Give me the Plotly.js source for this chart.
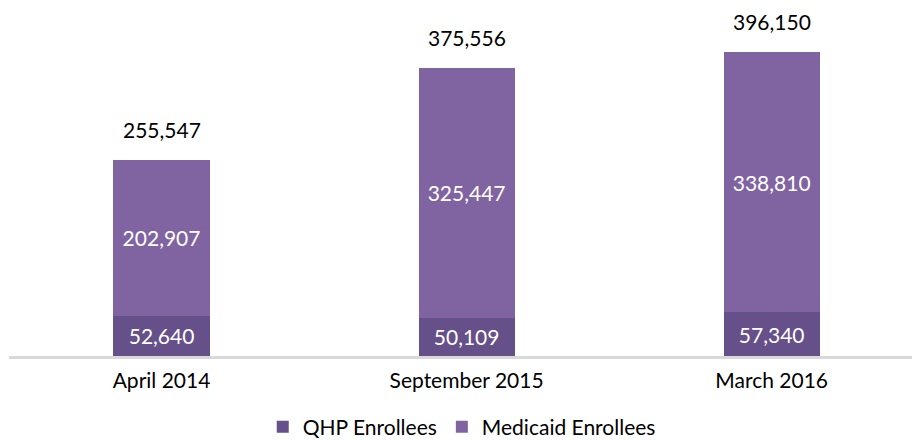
<!DOCTYPE html>
<html><head><meta charset="utf-8">
<script src="https://cdn.plot.ly/plotly-3.0.1.min.js"></script>
<style>body{margin:0;padding:0;background:#fff}</style>
</head><body>
<div id="chart" style="width:912px;height:440px"></div>
<script>
const categories = ["April 2014", "September 2015", "March 2016"];
const qhp = [52640, 50109, 57340];
const medicaid = [202907, 325447, 338810];
const totals = [255547, 375556, 396150];

const fmt = v => v.toLocaleString('en-US');
const FONT = "Lato, 'Open Sans', sans-serif";
const FS = 21;

const traces = [
  {
    type: 'bar', name: 'QHP Enrollees', x: categories, y: qhp,
    marker: {color: '#66508a'},
    text: qhp.map(fmt), textposition: 'inside', insidetextanchor: 'middle',
    constraintext: 'none',
    textfont: {color: '#ffffff', size: FS, family: FONT},
    hoverinfo: 'skip'
  },
  {
    type: 'bar', name: 'Medicaid Enrollees', x: categories, y: medicaid,
    marker: {color: '#8064a2'},
    text: medicaid.map(fmt), textposition: 'inside', insidetextanchor: 'middle',
    constraintext: 'none',
    textfont: {color: '#ffffff', size: FS, family: FONT},
    hoverinfo: 'skip'
  }
];

const annotations = categories.map((c, i) => ({
  x: c, y: totals[i], xref: 'x', yref: 'y',
  text: fmt(totals[i]), showarrow: false,
  yanchor: 'bottom', xanchor: 'center', yshift: 16,
  font: {size: FS, color: '#000', family: FONT}
}));

const layout = {
  width: 912, height: 440,
  margin: {l: 9, r: 0, t: 34, b: 84, autoexpand: false},
  barmode: 'stack',
  bargap: 0.685,
  paper_bgcolor: '#fff', plot_bgcolor: '#fff',
  font: {family: FONT, color: '#000'},
  annotations: annotations,
  xaxis: {
    type: 'category', range: [-0.5, 2.46],
    showline: true, linecolor: '#d9d9d9', linewidth: 2.5,
    ticks: '', showgrid: false, zeroline: false,
    ticklabelstandoff: 4,
    tickfont: {size: FS, color: '#000', family: FONT}
  },
  yaxis: {
    range: [0, 419700], visible: false, showgrid: false, zeroline: false
  },
  legend: {
    orientation: 'h', x: 0.281, xanchor: 'left', y: -0.157, yanchor: 'top',
    font: {size: FS, color: '#000', family: FONT},
    traceorder: 'normal', itemwidth: 30
  },
  showlegend: true
};

Plotly.newPlot('chart', traces, layout, {displayModeBar: false, staticPlot: true});
</script>
</body></html>
